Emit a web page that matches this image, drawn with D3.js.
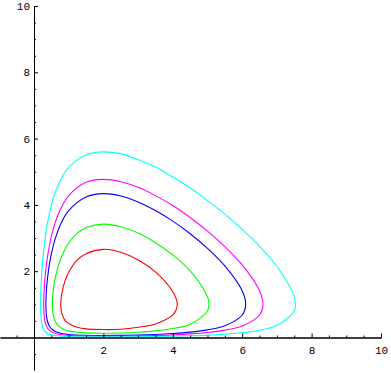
<!DOCTYPE html>
<html>
<head>
<meta charset="utf-8">
<script src="https://cdn.jsdelivr.net/npm/d3@7"></script>
<style>
  body { margin: 0; background: #fff; }
  svg { display: block; }
  .axis text { font-family: "Liberation Mono", "DejaVu Sans Mono", monospace; font-size: 11px; fill: #000; }
  .axis line, .axis path { stroke: #000; }
</style>
</head>
<body>
<div id="chart"></div>
<script>
'use strict';

// closed orbits, points as [x, y]
var redOrbit = [[0.77,1],[0.8,1.32],[0.9,1.73],[1,1.97],[1.25,2.34],[1.5,2.53],[2,2.66],[2.5,2.57],[3,2.34],[3.5,1.98],[4,1.38],[4.13,1],
  [4,0.68],[3.5,0.41],[3,0.31],[2.5,0.25],[2,0.24],[1.5,0.26],[1.25,0.31],[1,0.42],[0.9,0.51],[0.8,0.73]];
var greenOrbit = [[0.53,1],[0.55,1.38],[0.6,1.73],[0.7,2.16],[0.8,2.46],[1,2.85],[1.25,3.15],[1.5,3.31],[2,3.42],[2.5,3.34],[3,3.15],[3.5,2.86],[4,2.49],[4.5,2.01],[5,1.23],[5.04,1],
  [5,0.8],[4.5,0.4],[4,0.27],[3.5,0.2],[3,0.16],[2.5,0.136],[2,0.128],[1.5,0.14],[1.25,0.16],[1,0.2],[0.8,0.28],[0.7,0.356],[0.6,0.513],[0.55,0.69]];
var blueOrbit = [[0.343,1],[0.35,1.285],[0.37,1.58],[0.4,1.88],[0.45,2.25],[0.5,2.52],[0.6,2.94],[0.8,3.49],[1,3.83],[1.5,4.24],[2,4.34],[2.5,4.27],[3,4.09],[3.5,3.83],[4,3.51],[4.5,3.13],[5,2.69],[5.5,2.16],[6,1.41],[6.1,1],
  [6,0.68],[5.5,0.354],[5,0.231],[4.5,0.162],[4,0.119],[3.5,0.091],[3,0.074],[2.5,0.065],[2,0.06],[1.5,0.066],[1,0.092],[0.8,0.12],[0.6,0.189],[0.5,0.265],[0.45,0.332],[0.4,0.453],[0.37,0.583],[0.35,0.763]];
var magentaOrbit = [[0.281,1],[0.285,1.257],[0.3,1.556],[0.32,1.824],[0.35,2.13],[0.4,2.51],[0.45,2.81],[0.5,3.05],[0.6,3.44],[0.8,3.95],[1,4.28],[1.5,4.68],[2,4.77],[2.5,4.7],[3,4.53],[3.5,4.28],[4,3.98],[4.5,3.62],[5,3.21],[5.5,2.74],[6,2.19],[6.5,1.41],[6.6,1],
  [6.5,0.68],[6,0.346],[5.5,0.222],[5,0.151],[4.5,0.109],[4,0.081],[3.5,0.063],[3,0.051],[2.5,0.045],[2,0.042],[1.5,0.046],[1,0.063],[0.8,0.083],[0.6,0.126],[0.5,0.173],[0.45,0.209],[0.4,0.267],[0.35,0.365],[0.32,0.474],[0.3,0.594],[0.285,0.78]];
var cyanOrbit = [[0.192,1],[0.2,1.44],[0.22,1.87],[0.25,2.31],[0.3,2.82],[0.35,3.21],[0.4,3.52],[0.5,3.99],[0.6,4.34],[0.8,4.82],[1,5.13],[1.5,5.51],[2,5.6],[2.5,5.54],[3,5.37],[3.5,5.14],[4,4.84],[4.5,4.51],[5,4.13],[5.5,3.72],[6,3.26],[6.5,2.75],[7,2.15],[7.5,1.235],[7.53,1],
  [7.5,0.798],[7,0.359],[6.5,0.221],[6,0.145],[5.5,0.1],[5,0.071],[4.5,0.053],[4,0.04],[3.5,0.031],[3,0.026],[2.5,0.023],[2,0.021],[1.5,0.023],[1,0.032],[0.8,0.041],[0.6,0.06],[0.5,0.08],[0.4,0.117],[0.35,0.151],[0.3,0.207],[0.25,0.316],[0.22,0.457],[0.2,0.666]];

var orbitNames = ['red', 'green', 'blue', 'magenta', 'cyan'];
var orbitColors = ['#ff0000', '#00ff00', '#0000ff', '#ff00ff', '#00ffff'];
var orbitData = [redOrbit, greenOrbit, blueOrbit, magentaOrbit, cyanOrbit];

var majorTicks = [2, 4, 6, 8, 10];
var minorTicks = [-0.5, 0.5, 1, 1.5, 2.5, 3, 3.5, 4.5, 5, 5.5, 6.5, 7, 7.5, 8.5, 9, 9.5];

var width = 391, height = 373;

var svg = d3.select('#chart').append('svg')
    .attr('width', width)
    .attr('height', height);

var xScale = d3.scaleLinear().domain([-0.98, 10]).range([0, 381]);
var yScale = d3.scaleLinear().domain([-0.98, 10]).range([370, 6]);

// orbits
var lineGenerator = d3.line()
    .x(d => xScale(d[0]))
    .y(d => yScale(d[1]))
    .curve(d3.curveCatmullRomClosed.alpha(0.5));

svg.append('g')
    .selectAll('path')
    .data(orbitData)
    .join('path')
    .attr('class', (d, i) => 'orbit ' + orbitNames[i])
    .attr('d', d => lineGenerator(d))
    .attr('fill', 'none')
    .attr('stroke', (d, i) => orbitColors[i])
    .attr('stroke-width', 1.1);

// axes, ticks point inward like the original
var xAxis = svg.append('g')
    .attr('class', 'axis')
    .attr('transform', 'translate(0,' + yScale(0) + ')');
xAxis.call(d3.axisBottom(xScale).tickValues(majorTicks).tickSize(-4).tickSizeOuter(0).tickPadding(9).tickFormat(d3.format('d')));
xAxis.append('g').call(d3.axisBottom(xScale).tickValues(minorTicks).tickSize(-2).tickSizeOuter(0).tickFormat(''));

var yAxis = svg.append('g')
    .attr('class', 'axis')
    .attr('transform', 'translate(' + xScale(0) + ',0)');
yAxis.call(d3.axisLeft(yScale).tickValues(majorTicks).tickSize(-4).tickSizeOuter(0).tickPadding(4).tickFormat(d3.format('d')));
yAxis.append('g').call(d3.axisLeft(yScale).tickValues(minorTicks).tickSize(-2).tickSizeOuter(0).tickFormat(''));

svg.selectAll('.axis path.domain').attr('stroke-width', 1);
svg.selectAll('.axis text').attr('fill', '#000');
</script>
</body>
</html>
